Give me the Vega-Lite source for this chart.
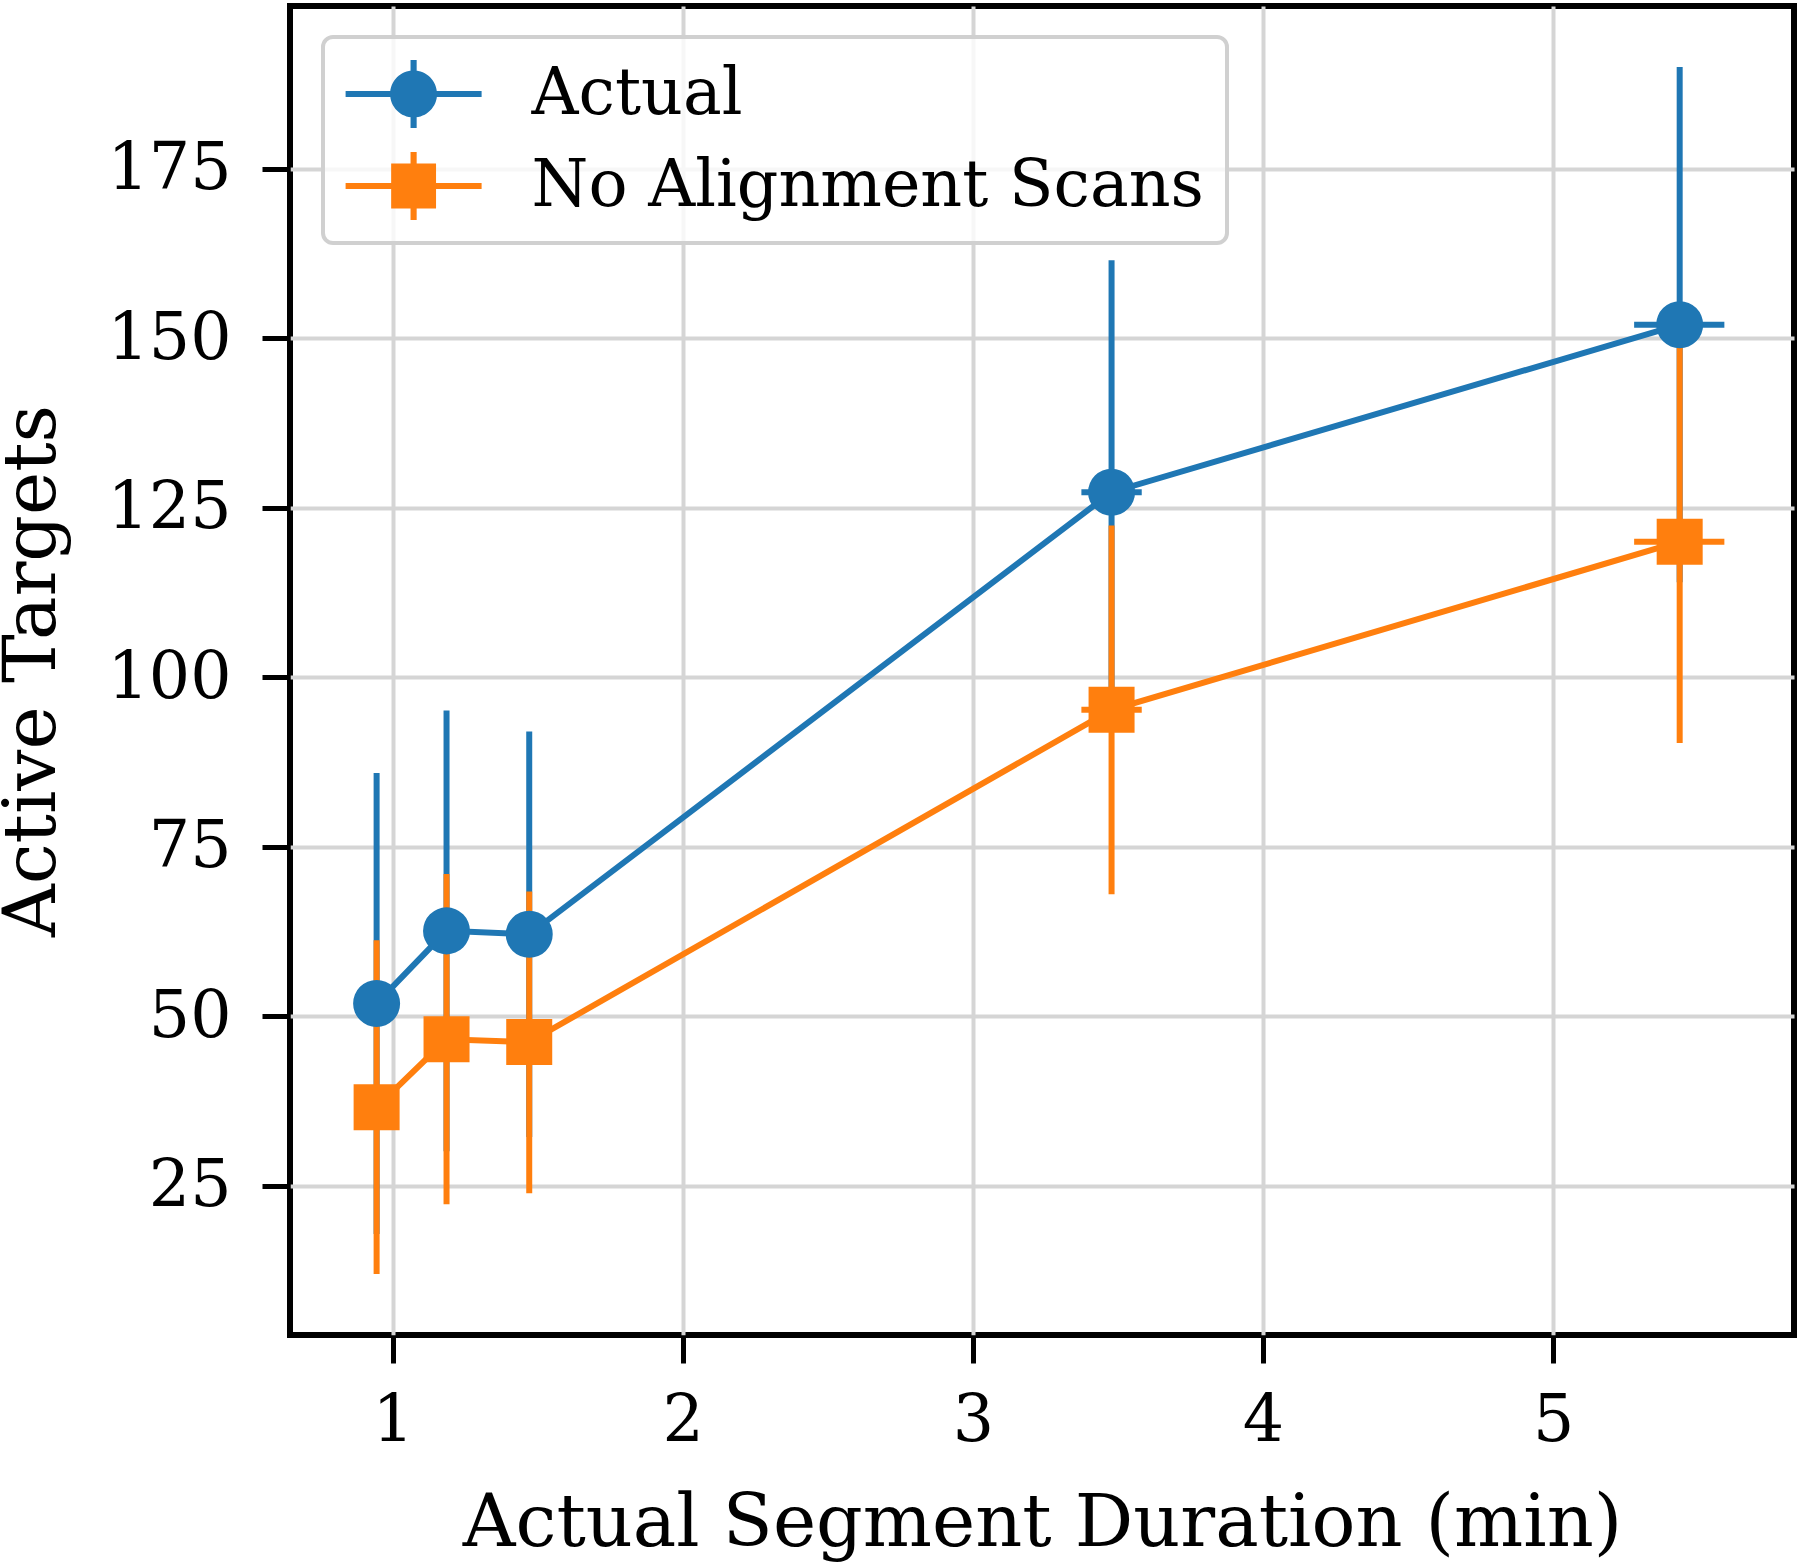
{
  "$schema": "https://vega.github.io/schema/vega-lite/v6.json",
  "width": 1504,
  "height": 1329,
  "autosize": {"type": "none"},
  "padding": {"left": 290, "top": 6, "right": 6, "bottom": 227},
  "background": "white",
  "config": {
    "font": "DejaVu Serif",
    "view": {"stroke": "black", "strokeWidth": 6},
    "axis": {
      "labelFont": "DejaVu Serif",
      "titleFont": "DejaVu Serif",
      "labelFontSize": 65,
      "titleFontSize": 73,
      "labelColor": "black",
      "titleColor": "black",
      "titleFontWeight": "normal",
      "domain": false,
      "tickColor": "black",
      "tickWidth": 5,
      "tickSize": 28,
      "gridColor": "#d5d5d5",
      "gridWidth": 4,
      "grid": true
    },
    "legend": {
      "orient": "none",
      "legendX": 33,
      "legendY": 31,
      "labelFont": "DejaVu Serif",
      "labelFontSize": 65,
      "labelColor": "black",
      "labelLimit": 0,
      "symbolSize": 4624,
      "symbolOffset": 33.6,
      "labelOffset": 84,
      "padding": 23,
      "rowPadding": 24,
      "fillColor": "rgba(255,255,255,0.8)",
      "strokeColor": "#d0d0d0",
      "strokeWidth": 4,
      "cornerRadius": 10,
      "symbolStrokeWidth": 0
    }
  },
  "datasets": {
    "pts": [
      {"series": "Actual", "x": 0.945, "y": 51.9, "ylo": 17.9, "yhi": 85.9, "xlo": 0.895, "xhi": 0.995},
      {"series": "Actual", "x": 1.186, "y": 62.6, "ylo": 30.1, "yhi": 95.1, "xlo": 1.136, "xhi": 1.236},
      {"series": "Actual", "x": 1.471, "y": 62.1, "ylo": 32.2, "yhi": 92.0, "xlo": 1.421, "xhi": 1.521},
      {"series": "Actual", "x": 3.478, "y": 127.3, "ylo": 93.1, "yhi": 161.5, "xlo": 3.374, "xhi": 3.582},
      {"series": "Actual", "x": 5.436, "y": 152.0, "ylo": 114.0, "yhi": 190.0, "xlo": 5.279, "xhi": 5.59},
      {"series": "No Alignment Scans", "x": 0.945, "y": 36.6, "ylo": 12.0, "yhi": 61.2, "xlo": 0.895, "xhi": 0.995},
      {"series": "No Alignment Scans", "x": 1.186, "y": 46.6, "ylo": 22.3, "yhi": 71.0, "xlo": 1.136, "xhi": 1.236},
      {"series": "No Alignment Scans", "x": 1.471, "y": 46.2, "ylo": 23.9, "yhi": 68.4, "xlo": 1.421, "xhi": 1.521},
      {"series": "No Alignment Scans", "x": 3.478, "y": 95.2, "ylo": 68.0, "yhi": 122.4, "xlo": 3.374, "xhi": 3.582},
      {"series": "No Alignment Scans", "x": 5.436, "y": 120.0, "ylo": 90.3, "yhi": 149.7, "xlo": 5.279, "xhi": 5.59}
    ]
  },
  "layer": [
    {
      "data": {"name": "pts"},
      "transform": [{"filter": {"field": "series", "equal": "Actual"}}],
      "mark": {"type": "rule", "strokeWidth": 6, "color": "#1f77b4"},
      "encoding": {
        "x": {
          "field": "x", "type": "quantitative",
          "scale": {"domain": [0.6465, 5.83], "nice": false, "zero": false},
          "axis": {"title": "Actual Segment Duration (min)", "values": [1, 2, 3, 4, 5], "format": "d", "labelPadding": 26, "titlePadding": 34}
        },
        "y": {
          "field": "ylo", "type": "quantitative",
          "scale": {"domain": [3, 199], "nice": false, "zero": false},
          "axis": {"title": "Active Targets", "values": [25, 50, 75, 100, 125, 150, 175], "labelPadding": 31, "titlePadding": 37}
        },
        "y2": {"field": "yhi"}
      }
    },
    {
      "data": {"name": "pts"},
      "transform": [{"filter": {"field": "series", "equal": "Actual"}}],
      "mark": {"type": "rule", "strokeWidth": 6, "color": "#1f77b4"},
      "encoding": {
        "x": {"field": "xlo", "type": "quantitative"},
        "x2": {"field": "xhi"},
        "y": {"field": "y", "type": "quantitative"}
      }
    },
    {
      "data": {"name": "pts"},
      "transform": [{"filter": {"field": "series", "equal": "No Alignment Scans"}}],
      "mark": {"type": "rule", "strokeWidth": 6, "color": "#ff7f0e"},
      "encoding": {
        "x": {"field": "x", "type": "quantitative"},
        "y": {"field": "ylo", "type": "quantitative"},
        "y2": {"field": "yhi"}
      }
    },
    {
      "data": {"name": "pts"},
      "transform": [{"filter": {"field": "series", "equal": "No Alignment Scans"}}],
      "mark": {"type": "rule", "strokeWidth": 6, "color": "#ff7f0e"},
      "encoding": {
        "x": {"field": "xlo", "type": "quantitative"},
        "x2": {"field": "xhi"},
        "y": {"field": "y", "type": "quantitative"}
      }
    },
    {
      "data": {"name": "pts"},
      "transform": [{"filter": {"field": "series", "equal": "Actual"}}],
      "mark": {"type": "line", "strokeWidth": 6, "color": "#1f77b4"},
      "encoding": {
        "x": {"field": "x", "type": "quantitative"},
        "y": {"field": "y", "type": "quantitative"},
        "order": {"field": "x", "type": "quantitative"}
      }
    },
    {
      "data": {"name": "pts"},
      "transform": [{"filter": {"field": "series", "equal": "Actual"}}],
      "mark": {"type": "point", "shape": "circle", "filled": true, "size": 2209, "opacity": 1, "color": "#1f77b4"},
      "encoding": {
        "x": {"field": "x", "type": "quantitative"},
        "y": {"field": "y", "type": "quantitative"}
      }
    },
    {
      "data": {"name": "pts"},
      "transform": [{"filter": {"field": "series", "equal": "No Alignment Scans"}}],
      "mark": {"type": "line", "strokeWidth": 6, "color": "#ff7f0e"},
      "encoding": {
        "x": {"field": "x", "type": "quantitative"},
        "y": {"field": "y", "type": "quantitative"},
        "order": {"field": "x", "type": "quantitative"}
      }
    },
    {
      "data": {"name": "pts"},
      "transform": [{"filter": {"field": "series", "equal": "No Alignment Scans"}}],
      "mark": {"type": "point", "shape": "square", "filled": true, "size": 2116, "opacity": 1, "color": "#ff7f0e"},
      "encoding": {
        "x": {"field": "x", "type": "quantitative"},
        "y": {"field": "y", "type": "quantitative"}
      }
    },
    {
      "data": {"name": "pts"},
      "mark": {"type": "point", "filled": true, "opacity": 0, "size": 4624},
      "encoding": {
        "x": {"field": "x", "type": "quantitative"},
        "y": {"field": "y", "type": "quantitative"},
        "color": {
          "field": "series", "type": "nominal",
          "scale": {"domain": ["Actual", "No Alignment Scans"], "range": ["#1f77b4", "#ff7f0e"]},
          "legend": {"title": null, "encode": {"symbols": {"update": {"opacity": {"value": 1}}}}}
        },
        "shape": {
          "field": "series", "type": "nominal",
          "scale": {
            "domain": ["Actual", "No Alignment Scans"],
            "range": [
              "M-2,-0.09L2,-0.09L2,0.09L-2,0.09Z M-0.09,-1L0.09,-1L0.09,1L-0.09,1Z M0.69,0A0.69,0.69,0,1,1,-0.69,0A0.69,0.69,0,1,1,0.69,0Z",
              "M-2,-0.09L2,-0.09L2,0.09L-2,0.09Z M-0.09,-1L0.09,-1L0.09,1L-0.09,1Z M-0.66,-0.66L0.66,-0.66L0.66,0.66L-0.66,0.66Z"
            ]
          },
          "legend": {"title": null, "encode": {"symbols": {"update": {"opacity": {"value": 1}}}}}
        }
      }
    }
  ]
}
